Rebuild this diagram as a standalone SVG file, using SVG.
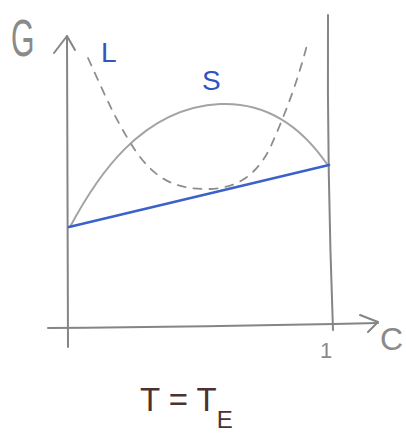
<svg xmlns="http://www.w3.org/2000/svg" width="406" height="439" viewBox="0 0 406 439">
<style>
.axis{fill:none;stroke:#858585;stroke-width:2;stroke-linecap:round;stroke-linejoin:round}
.curve{fill:none;stroke:#a3a3a3;stroke-width:2;stroke-linecap:round}
.dash{fill:none;stroke:#8e8e8e;stroke-width:1.8;stroke-dasharray:8 8;stroke-linecap:round}
.tie{fill:none;stroke:#3a62c9;stroke-width:2.6;stroke-linecap:round}
.lbl{font-family:"Liberation Sans",Arial,sans-serif}
.gray{fill:#8a8a8a}
.blue{fill:#2f55c0}
.brown{fill:#4a3232}
</style>
<rect width="406" height="439" fill="#ffffff"/>
<g id="axes">
<path class="axis" d="M67,36 L68,347"/>
<path class="axis" d="M54,53 L67,36 L75,50"/>
<path class="axis" d="M48,328 Q200,327 378,323"/>
<path class="axis" d="M360,315 L378,322 L368,332"/>
<path class="axis" d="M328,15 Q327,170 333,330"/>
</g>
<g id="connectors">
<path id="solid-curve" class="curve" d="M70,227 C95,180 140,108 220,104 C265,102 300,125 327,164"/>
<path id="liquid-curve" class="dash" d="M88,58 C105,95 115,120 137,153 C155,178 175,190 210,189 C240,188 258,172 270,148 C285,115 298,80 307,45"/>
<path id="tie-line" class="tie" d="M69,227 L329,165"/>
</g>
<g id="label-G"><text class="lbl gray" x="0" y="0" font-size="52" transform="translate(11,56) scale(0.58,1)">G</text></g>
<g id="label-L"><text class="lbl blue" x="101" y="62" font-size="28">L</text></g>
<g id="label-S"><text class="lbl blue" x="202" y="90" font-size="28">S</text></g>
<g id="label-1"><text class="lbl gray" x="320" y="358" font-size="22">1</text></g>
<g id="label-C"><text class="lbl gray" x="380" y="350" font-size="32">C</text></g>
<g id="label-T"><text class="lbl brown" x="140" y="411" font-size="33">T = T<tspan font-size="24" dy="17">E</tspan></text></g>
</svg>
